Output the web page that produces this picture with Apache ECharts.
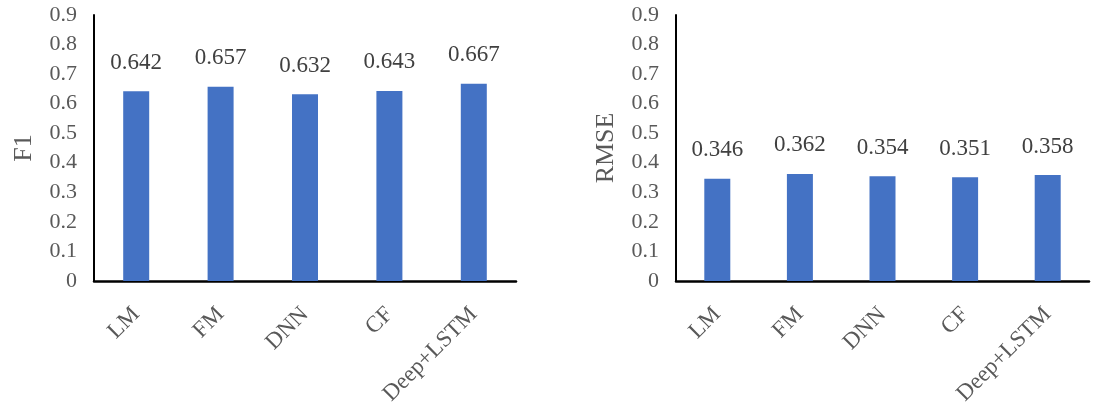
<!DOCTYPE html>
<html>
<head>
<meta charset="utf-8">
<script src="https://cdn.jsdelivr.net/npm/echarts@6/dist/echarts.min.js"></script>
<style>
html,body{margin:0;padding:0;background:#fff;}
#c{width:1100px;height:408px;}
</style>
</head>
<body>
<div id="c"></div>
<script>
const categories = ['LM', 'FM', 'DNN', 'CF', 'Deep+LSTM'];
const f1Values = [0.642, 0.657, 0.632, 0.643, 0.667];
const rmseValues = [0.346, 0.362, 0.354, 0.351, 0.358];
const yTicks = [0, 0.1, 0.2, 0.3, 0.4, 0.5, 0.6, 0.7, 0.8, 0.9];

const FONT = '"Liberation Serif", "Times New Roman", serif';
const chart = echarts.init(document.getElementById('c'));

function xAxis(idx) {
  return {
    type: 'category', gridIndex: idx, data: categories,
    axisLine: { lineStyle: { color: '#000', width: 2.5 } },
    axisTick: { show: false },
    axisLabel: { rotate: 45, margin: 30, fontFamily: FONT, fontSize: 23, color: '#595959', interval: 0 }
  };
}
function yAxis(idx, name) {
  return {
    type: 'value', gridIndex: idx, min: 0, max: 0.9, interval: 0.1,
    name: name, nameLocation: 'middle', nameGap: 57, nameRotate: 90,
    nameTextStyle: { fontFamily: FONT, fontSize: 26, color: '#595959' },
    axisLine: { show: true, lineStyle: { color: '#000', width: 2 } },
    axisTick: { show: false },
    splitLine: { show: false },
    axisLabel: { margin: 17, fontFamily: FONT, fontSize: 22, color: '#595959',
      formatter: v => String(+v.toFixed(1)) }
  };
}
function bar(idx, data) {
  return {
    type: 'bar', xAxisIndex: idx, yAxisIndex: idx, data: data, barWidth: 26,
    itemStyle: { color: '#4472C4' },
    label: { show: true, position: 'top', distance: 17, fontFamily: FONT, fontSize: 23, color: '#404040',
      formatter: p => p.value.toFixed(3) }
  };
}

chart.setOption({
  animation: false,
  grid: [
    { left: 94, top: 15, width: 422, height: 266 },
    { left: 676, top: 15, width: 413, height: 266 }
  ],
  xAxis: [xAxis(0), xAxis(1)],
  yAxis: [yAxis(0, 'F1'), yAxis(1, 'RMSE')],
  series: [bar(0, f1Values), bar(1, rmseValues)]
});
</script>
</body>
</html>
